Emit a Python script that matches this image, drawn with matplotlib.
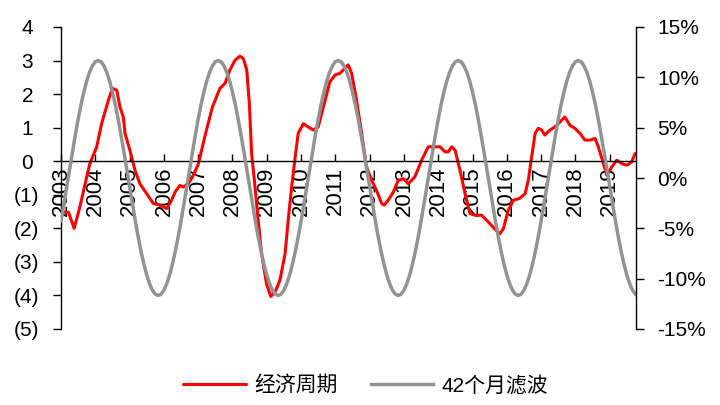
import matplotlib
matplotlib.use('Agg')
import matplotlib.pyplot as plt
from matplotlib.font_manager import FontProperties

plt.rcParams['font.family'] = ['Liberation Sans', 'DejaVu Sans']

# ---- data ----
years = list(range(2003, 2020))
year_tick_month = [12 * i for i in range(len(years))]

# 经济周期 (left axis) : month index from Jan-2003, value
red_month = [0.3, 2.6, 4.6, 6.6, 9.0, 10.1, 12.5, 14.2, 16.6, 18.0, 19.5, 20.6, 21.8, 22.4,
             24.1, 25.9, 27.6, 30.0, 32.3, 34.6, 37.0, 38.7, 39.9, 41.6, 42.8, 44.6, 46.3,
             48.1, 50.6, 53.0, 55.6, 57.4, 59.1, 60.9, 62.6, 63.8, 65.0, 65.9, 66.7, 67.9,
             69.0, 70.2, 71.9, 73.4, 74.9, 76.6, 78.4, 79.5, 80.7, 81.8, 83.0, 84.8, 86.5,
             88.3, 90.0, 91.8, 94.1, 95.9, 97.6, 99.9, 100.5, 101.7, 103.4, 105.2, 106.9,
             108.7, 110.4, 112.2, 113.1, 114.5, 116.3, 118.0, 119.8, 121.5, 123.8, 126.2,
             128.5, 130.3, 132.6, 134.4, 135.5, 136.7, 137.9, 139.6, 141.4, 143.1, 144.9,
             147.2, 149.5, 151.9, 153.6, 154.8, 156.5, 158.3, 160.4, 162.4, 163.5, 164.7,
             165.9, 167.0, 168.2, 169.3, 171.1, 172.8, 174.6, 176.3, 178.1, 179.8, 181.6,
             183.3, 185.1, 186.9, 188.0, 189.8, 191.0, 192.7, 194.5, 196.2, 198.0, 199.7,
             200.9]
red_value = [-1.51, -1.52, -2.00, -1.36, -0.47, -0.07, 0.43, 1.12, 1.82, 2.17, 2.12, 1.62,
             1.32, 0.83, 0.33, -0.27, -0.67, -0.97, -1.26, -1.31, -1.41, -1.16, -0.92, -0.72,
             -0.77, -0.67, -0.42, -0.07, 0.83, 1.62, 2.17, 2.32, 2.72, 3.01, 3.13, 3.06, 2.72,
             1.72, 0.23, -0.77, -1.76, -2.76, -3.65, -4.03, -3.90, -3.55, -2.76, -1.76, -0.77,
             0.03, 0.83, 1.12, 1.02, 0.93, 1.02, 1.62, 2.37, 2.57, 2.62, 2.82, 2.87, 2.62,
             1.82, 0.83, -0.17, -0.57, -0.87, -1.26, -1.31, -1.16, -0.92, -0.57, -0.52, -0.67,
             -0.47, 0.03, 0.43, 0.43, 0.43, 0.28, 0.28, 0.43, 0.33, -0.27, -0.97, -1.56, -1.61,
             -1.61, -1.81, -2.03, -2.16, -2.01, -1.46, -1.16, -1.11, -0.97, -0.57, 0.13, 0.83,
             0.98, 0.93, 0.78, 0.93, 1.02, 1.17, 1.32, 1.07, 0.98, 0.83, 0.63, 0.63, 0.68,
             0.43, -0.07, -0.42, -0.17, 0.03, -0.07, -0.12, -0.02, 0.23]

# 42个月滤波 (right axis, %) : monthly from Jan-2003
gray_value = [
    -4.26, -2.60, -0.87, 0.87, 2.60, 4.26, 5.84, 7.28, 8.55, 9.64, 10.51, 11.15, 11.54,
    11.67, 11.54, 11.15, 10.51, 9.64, 8.55, 7.28, 5.84, 4.26, 2.60, 0.87, -0.87, -2.60,
    -4.26, -5.84, -7.28, -8.55, -9.64, -10.51, -11.15, -11.54, -11.67, -11.54, -11.15,
    -10.51, -9.64, -8.55, -7.28, -5.84, -4.26, -2.60, -0.87, 0.87, 2.60, 4.26, 5.84, 7.28,
    8.55, 9.64, 10.51, 11.15, 11.54,
    11.67, 11.54, 11.15, 10.51, 9.64, 8.55, 7.28, 5.84, 4.26, 2.60, 0.87, -0.87, -2.60,
    -4.26, -5.84, -7.28, -8.55, -9.64, -10.51, -11.15, -11.54, -11.67, -11.54, -11.15,
    -10.51, -9.64, -8.55, -7.28, -5.84, -4.26, -2.60, -0.87, 0.87, 2.60, 4.26, 5.84, 7.28,
    8.55, 9.64, 10.51, 11.15, 11.54,
    11.67, 11.54, 11.15, 10.51, 9.64, 8.55, 7.28, 5.84, 4.26, 2.60, 0.87, -0.87, -2.60,
    -4.26, -5.84, -7.28, -8.55, -9.64, -10.51, -11.15, -11.54, -11.67, -11.54, -11.15,
    -10.51, -9.64, -8.55, -7.28, -5.84, -4.26, -2.60, -0.87, 0.87, 2.60, 4.26, 5.84, 7.28,
    8.55, 9.64, 10.51, 11.15, 11.54,
    11.67, 11.54, 11.15, 10.51, 9.64, 8.55, 7.28, 5.84, 4.26, 2.60, 0.87, -0.87, -2.60,
    -4.26, -5.84, -7.28, -8.55, -9.64, -10.51, -11.15, -11.54, -11.67, -11.54, -11.15,
    -10.51, -9.64, -8.55, -7.28, -5.84, -4.26, -2.60, -0.87, 0.87, 2.60, 4.26, 5.84, 7.28,
    8.55, 9.64, 10.51, 11.15, 11.54,
    11.67, 11.54, 11.15, 10.51, 9.64, 8.55, 7.28, 5.84, 4.26, 2.60, 0.87, -0.87, -2.60,
    -4.26, -5.84, -7.28, -8.55, -9.64, -10.51, -11.15, -11.54,
]

left_neg_ticks = [-5, -4, -3, -2, -1]
left_neg_labels = ['(5)', '(4)', '(3)', '(2)', '(1)']
left_pos_ticks = [0, 1, 2, 3, 4]
left_pos_labels = ['0', '1', '2', '3', '4']
right_ticks = [-15, -10, -5, 0, 5, 10, 15]
right_labels = ['-15%', '-10%', '-5%', '0%', '5%', '10%', '15%']

series_names = ['经济周期', '42个月滤波']

# ---- figure ----
fig = plt.figure(figsize=(7.2, 4.05), dpi=100)
ax = fig.add_axes([61 / 720, 1 - 329 / 405, (636 - 61) / 720, (329 - 27) / 405])
ax2 = ax.twinx()

l1, = ax.plot(red_month, red_value, color='#ff0000', lw=2.2,
              solid_joinstyle='round', solid_capstyle='round')
l2, = ax2.plot(range(len(gray_value)), gray_value, color='#939393', lw=2.5,
               solid_joinstyle='round')

ax.set_xlim(0, 201.2)
ax.set_ylim(-5, 4)
ax2.set_ylim(-15, 15)

for s in ['top', 'right']:
    ax.spines[s].set_visible(False)
ax.spines['bottom'].set_position(('data', 0))
for s in ['top', 'bottom', 'left']:
    ax2.spines[s].set_visible(False)
for sp in [ax.spines['left'], ax.spines['bottom'], ax2.spines['right']]:
    sp.set_color('black')
    sp.set_linewidth(1.0)

ax.set_axisbelow(True)

ax.set_xticks(year_tick_month)
ax.set_xticklabels([str(y) for y in years])
ax.tick_params(axis='x', direction='in', length=5, width=1, pad=4,
               labelsize=16, labelrotation=90)

ax.set_yticks(left_neg_ticks)
ax.set_yticklabels(left_neg_labels)
ax.set_yticks(left_pos_ticks, minor=True)
ax.set_yticklabels(left_pos_labels, minor=True)
ax.tick_params(axis='y', which='both', direction='out', length=5.5, width=1, labelsize=15)
ax.tick_params(axis='y', which='major', pad=10)
ax.tick_params(axis='y', which='minor', pad=14.5)

ax2.set_yticks(right_ticks)
ax2.set_yticklabels(right_labels)
ax2.tick_params(axis='y', direction='out', length=5.5, width=1, pad=10, labelsize=15)

fig.legend([l1, l2], series_names, loc='center', bbox_to_anchor=(0.508, 0.049),
           ncol=2, frameon=False,
           prop=FontProperties(family=['Liberation Sans', 'Noto Sans CJK SC'], size=15),
           handlelength=3.0, handletextpad=0.4, columnspacing=1.6)

fig.savefig('out.png', dpi=100)
